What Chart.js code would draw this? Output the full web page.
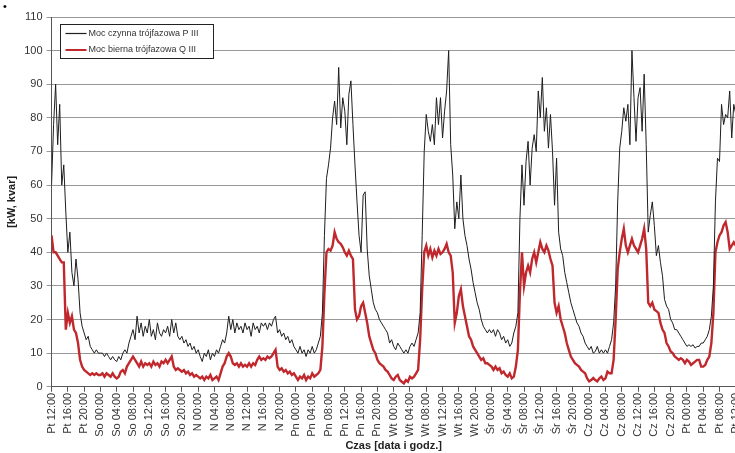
<!DOCTYPE html>
<html>
<head>
<meta charset="utf-8">
<script src="https://cdn.jsdelivr.net/npm/chart.js@4/dist/chart.umd.min.js"></script>
<style>
  html, body { margin: 0; padding: 0; background: #fff; overflow: hidden; }
  #wrap { width: 735px; height: 453px; overflow: hidden; }
</style>
</head>
<body>
<div id="wrap"><canvas id="canvas" width="750" height="453"></canvas></div>
<script>
// one reading every half hour, starting Pt 12:00
var STEP_H = 0.5;

var seriesLabels = ['Moc czynna trójfazowa P III', 'Moc bierna trójfazowa Q III'];

// active power P [kW]
var P_III = [
  // Pt 12:00 - 23:30
  60, 78, 90, 72, 84, 60, 66, 52, 40, 46, 34, 30, 38, 32, 22, 18, 16, 14, 15, 12, 11, 10, 11, 10,
  // So
  10, 10, 9, 10, 9, 8, 9, 8, 7.5, 9, 8, 10, 11, 10, 13, 15, 17, 14, 21, 16, 19, 15, 18, 16,
  20, 15, 17, 14, 19, 16, 15, 17, 16, 18, 15, 20, 16, 19, 15, 14, 15, 13, 14, 12, 13, 11, 12, 10,
  // N
  11, 9, 7.5, 10, 9, 11, 8, 10, 9, 11, 10, 12, 14, 13, 16, 21, 17, 20, 16, 19, 17, 18, 16, 19,
  17, 18, 15, 19, 17, 18, 16, 19, 18, 19, 17, 19, 18, 20, 21, 16, 17, 15, 16, 14, 15, 13, 14, 12,
  // Pn
  11, 10, 12, 10, 11, 9, 11, 10, 12, 10, 11, 13, 15, 22, 45, 62, 66, 71, 80, 85, 78, 95, 77, 86,
  82, 72, 87, 91, 78, 66, 55, 45, 40, 57, 58, 41, 33, 29, 25, 23, 22, 20, 19, 18, 17, 16, 13, 14,
  // Wt
  12, 11, 13, 12, 11, 10, 11, 10, 12, 13, 12, 14, 16, 22, 45, 70, 81, 76, 73, 78, 72, 86, 78, 86,
  74, 82, 88, 100, 72, 63, 47, 55, 50, 63, 50, 45, 42, 38, 35, 31, 28, 25, 23, 20, 18, 17, 16, 17,
  // Śr
  16, 17, 15, 17, 16, 14, 15, 13, 14, 12, 13, 16, 18, 22, 50, 66, 54, 67, 73, 60, 71, 75, 70, 88,
  80, 92, 76, 83, 71, 81, 70, 54, 68, 46, 41, 39, 34, 31, 28, 25, 23, 21, 19, 18, 16, 15, 13, 12,
  // Cz
  11, 12, 10, 10.5, 12, 10, 11, 10, 11, 10, 12, 14, 19, 30, 55, 71, 76, 83, 79, 84, 72, 100, 86, 73,
  86, 89, 76, 93, 72, 46, 51, 55, 48, 39, 42, 37, 33, 26, 24, 23, 20, 19, 17, 17, 16, 15, 14, 13,
  // Pt 00:00 - 12:00
  12, 12.5, 12, 12.5, 11.5, 12, 12, 13, 13, 14, 15, 17, 21, 30, 55, 68, 67, 84, 78, 81, 80, 88, 74, 84,
  81
];

// reactive power Q [kvar]
var Q_III = [
  45, 40, 40, 39, 38, 37, 37, 17, 22, 19, 21, 17, 16, 13, 8, 6, 5, 4.5, 4, 3.5, 4, 3.5, 4, 3.5,
  3.5, 4, 3, 4, 3.5, 3, 4, 3, 2.5, 3, 4.5, 5, 4, 6, 7, 8, 9, 8, 7, 6, 7.5, 6, 7, 6.5,
  7, 6, 7.5, 6.5, 7, 6, 7.5, 7, 8, 7, 8, 9, 6, 5, 5.5, 5, 4.5, 5, 4, 4.5, 3.5, 4, 3, 3.5,
  3, 2.5, 3, 2, 3, 2.5, 3.5, 2, 2.5, 3, 2, 4, 6, 7, 9, 10, 9, 7, 6.5, 7, 6, 7, 6, 6.5,
  6, 7, 6, 7, 6.5, 8, 9, 8, 8.5, 8, 9, 8.5, 9, 10, 11, 6, 5, 5.5, 4.5, 5, 4, 4.5, 3.5, 4,
  3, 2, 3, 2.5, 3.5, 2, 3, 2.5, 4, 3, 3.5, 4, 5, 12, 28, 40, 41, 40.5, 42, 46, 44, 43, 42.5, 41.5,
  40, 39, 40.5, 39, 38, 23, 20, 21, 24, 25, 22, 19, 15, 13, 11, 10, 8, 7, 6.5, 6, 5, 4.5, 3.5, 2.5,
  2, 3, 3.5, 2, 1.5, 1, 2, 1.5, 3, 2.5, 3, 4, 5, 14, 29, 40, 42, 39, 41, 38.5, 40.5, 39, 41, 39.5,
  40, 41, 42.5, 40, 39, 34, 19, 22, 27, 29, 24, 21, 18, 15, 14, 12, 11, 10, 9, 8, 8.5, 7, 7, 6.5,
  6, 5, 6, 5, 5.5, 4, 4.5, 3.5, 3, 4, 2.5, 3, 6, 11, 28, 40, 30, 34, 36, 34, 38, 40, 37, 40,
  43, 41, 40, 42, 40.5, 38, 36, 25, 22, 24, 20, 18, 16, 13, 11, 9, 8, 7, 6.5, 6, 5, 4.5, 4, 2.5,
  1.6, 2, 2.6, 2, 1.6, 2.5, 3, 2, 2.5, 4.5, 4, 4, 8, 20, 35, 40, 44, 47, 42, 40, 42, 44, 42, 41,
  40, 42, 44, 47, 41, 25, 24, 25, 23, 22.5, 22, 19, 17, 16, 13, 12, 10.5, 10, 9, 8.5, 8, 8.5, 8, 7,
  8, 7.5, 6.5, 7, 7.5, 8, 8, 6, 6, 6.5, 8, 9, 13, 22, 40, 43, 45, 46, 48, 49, 46, 41, 42, 43,
  42
];

var tickLabels = [
  'Pt 12:00', 'Pt 16:00', 'Pt 20:00',
  'So 00:00', 'So 04:00', 'So 08:00', 'So 12:00', 'So 16:00', 'So 20:00',
  'N 00:00', 'N 04:00', 'N 08:00', 'N 12:00', 'N 16:00', 'N 20:00',
  'Pn 00:00', 'Pn 04:00', 'Pn 08:00', 'Pn 12:00', 'Pn 16:00', 'Pn 20:00',
  'Wt 00:00', 'Wt 04:00', 'Wt 08:00', 'Wt 12:00', 'Wt 16:00', 'Wt 20:00',
  'Śr 00:00', 'Śr 04:00', 'Śr 08:00', 'Śr 12:00', 'Śr 16:00', 'Śr 20:00',
  'Cz 00:00', 'Cz 04:00', 'Cz 08:00', 'Cz 12:00', 'Cz 16:00', 'Cz 20:00',
  'Pt 00:00', 'Pt 04:00', 'Pt 08:00', 'Pt 12:00'
];

var FONT = '"Liberation Sans", Arial, sans-serif';

function toPoints(arr) {
  return arr.map(function (v, i) { return { x: i * STEP_H, y: v }; });
}

// legend in a framed box inside the plot, plus the right frame line
var boxLegend = {
  id: 'boxLegend',
  afterDraw: function (chart) {
    var ctx = chart.ctx;
    var a = chart.chartArea;
    ctx.save();
    ctx.strokeStyle = '#666';
    ctx.lineWidth = 1;
    ctx.beginPath();
    ctx.moveTo(Math.round(a.right) + 0.5, a.top);
    ctx.lineTo(Math.round(a.right) + 0.5, a.bottom);
    ctx.stroke();

    var x0 = 60.5, y0 = 24.5, w = 153, h = 34;
    ctx.fillStyle = '#fff';
    ctx.fillRect(x0, y0, w, h);
    ctx.strokeStyle = '#222';
    ctx.strokeRect(x0, y0, w, h);
    ctx.font = '9px ' + FONT;
    ctx.textBaseline = 'middle';
    chart.data.datasets.forEach(function (ds, i) {
      var yy = y0 + 9 + i * 16.5;
      ctx.strokeStyle = ds.borderColor;
      ctx.lineWidth = i === 0 ? 1.2 : 2;
      ctx.beginPath();
      ctx.moveTo(x0 + 5, yy);
      ctx.lineTo(x0 + 26, yy);
      ctx.stroke();
      ctx.fillStyle = '#333';
      ctx.fillText(ds.label, x0 + 28, yy);
    });
    ctx.fillStyle = '#000';
    ctx.font = '11px ' + FONT;
    ctx.fillText('•', 3, 7);
    ctx.restore();
  }
};

new Chart(document.getElementById('canvas').getContext('2d'), {
  type: 'line',
  data: {
    datasets: [{
      label: seriesLabels[0],
      data: toPoints(P_III),
      borderColor: '#1e1e1e',
      borderWidth: 1,
      pointRadius: 0,
      tension: 0
    }, {
      label: seriesLabels[1],
      data: toPoints(Q_III),
      borderColor: '#c0282d',
      borderWidth: 2.4,
      pointRadius: 0,
      tension: 0
    }]
  },
  options: {
    responsive: false,
    animation: false,
    layout: { padding: { top: 17, right: 10, left: 5, bottom: 0 } },
    plugins: {
      legend: { display: false },
      tooltip: { enabled: false }
    },
    scales: {
      x: {
        type: 'linear',
        min: 0,
        max: 168,
        grid: { drawOnChartArea: false, drawTicks: true, tickLength: 5, color: '#555' },
        border: { display: true, color: '#555' },
        ticks: {
          stepSize: 4,
          autoSkip: false,
          maxRotation: 90,
          minRotation: 90,
          padding: 1,
          color: '#333',
          font: { family: FONT, size: 11 },
          callback: function (v) { return tickLabels[v / 4]; }
        },
        title: {
          display: true,
          text: 'Czas [data i godz.]',
          color: '#222',
          font: { family: FONT, size: 11, weight: 'bold' },
          padding: { top: 2, bottom: 0 }
        }
      },
      y: {
        min: 0,
        max: 110,
        grid: { color: '#999', tickLength: 5 },
        border: { display: true, color: '#555' },
        ticks: {
          stepSize: 10,
          padding: 4,
          color: '#333',
          font: { family: FONT, size: 11 }
        },
        title: {
          display: true,
          text: '[kW, kvar]',
          color: '#222',
          font: { family: FONT, size: 11, weight: 'bold' },
          padding: { top: 0, bottom: 2 }
        }
      }
    }
  },
  plugins: [boxLegend]
});
</script>
</body>
</html>
